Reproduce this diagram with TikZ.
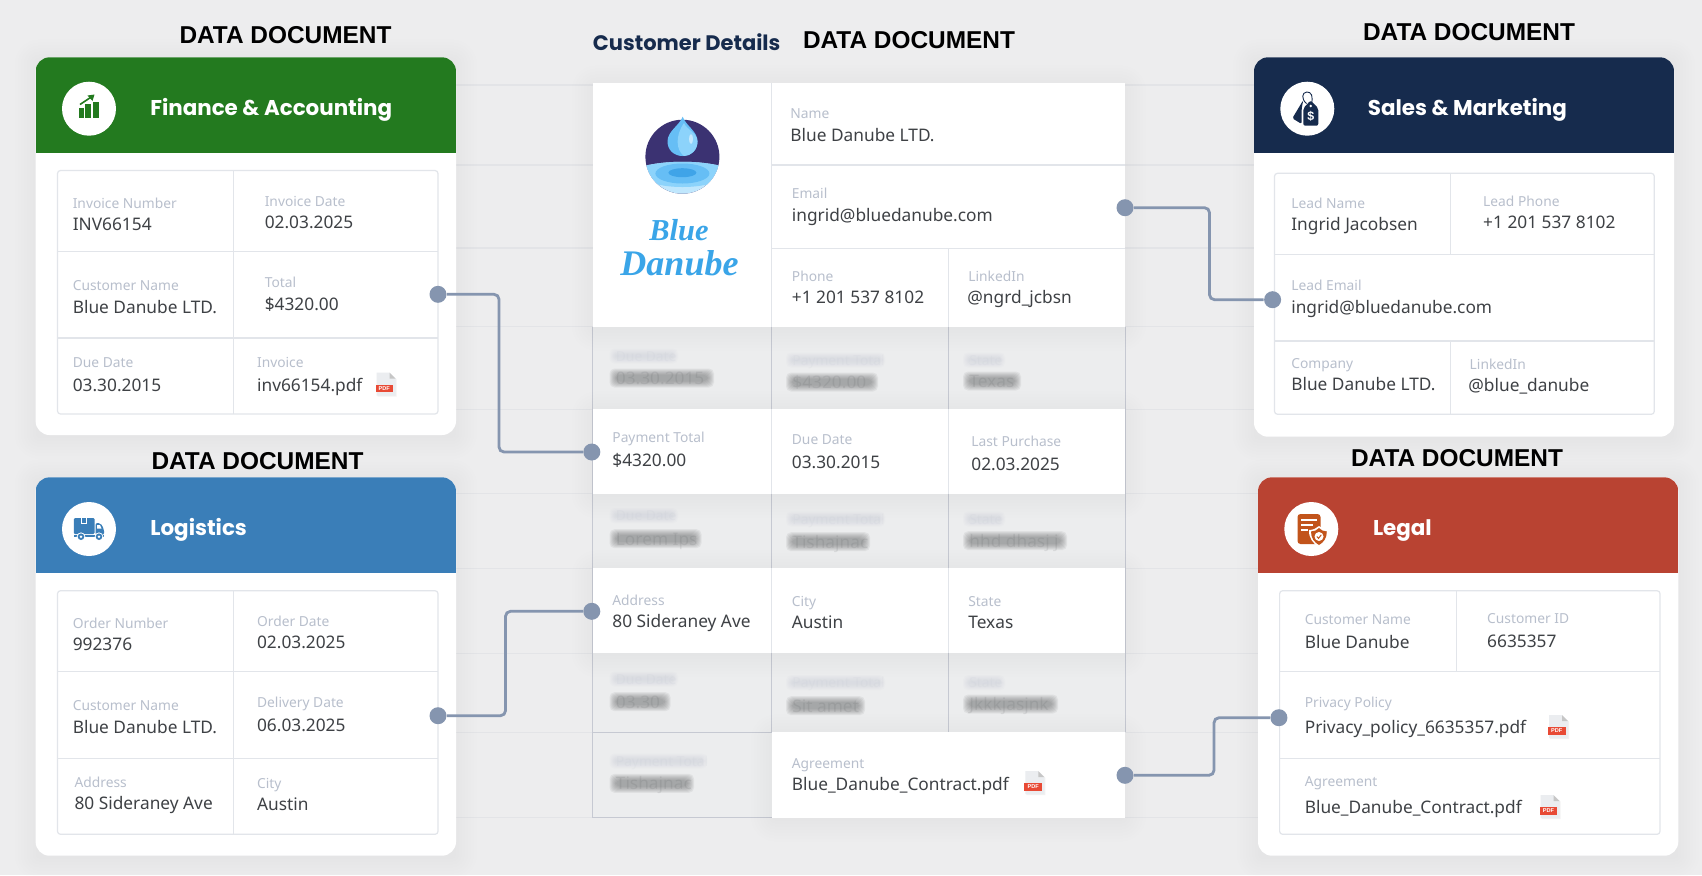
\documentclass[tikz,border=0pt]{standalone}
\usepackage{fontspec}
\setmainfont{Noto Sans}
\newfontfamily\headfont{Liberation Sans}
\newfontfamily\titlefont{Poppins}
\newfontfamily\logofont{Liberation Serif}
\usetikzlibrary{calc}
\definecolor{bgc}{HTML}{EDEDEE}
\definecolor{blurc}{HTML}{ECEDEE}
\definecolor{gridl}{HTML}{E2E5EA}
\definecolor{gridd}{HTML}{C6C9D2}
\definecolor{bgl}{HTML}{E3E4E7}
\definecolor{lblc}{HTML}{B8BFCC}
\definecolor{valc}{HTML}{3E4145}
\definecolor{connc}{HTML}{8595AF}
\definecolor{greenh}{HTML}{237A1F}
\definecolor{navyh}{HTML}{162B4D}
\definecolor{blueh}{HTML}{3A7EB8}
\definecolor{redh}{HTML}{B94332}
\definecolor{orangei}{HTML}{C2541B}
\definecolor{logod}{HTML}{3B3272}
\definecolor{logol}{HTML}{8CD3FB}
\definecolor{logom}{HTML}{66BEF5}
\definecolor{logoi}{HTML}{3FA4E8}
\definecolor{logot}{HTML}{3AA5E8}
\definecolor{pdfr}{HTML}{E84A35}
\newcounter{nn}
\tikzset{
  lbl/.style={anchor=west,inner sep=0pt,text=lblc,text height=5.2pt,text depth=0pt,font=\fontsize{6.9}{8}\selectfont},
  valt/.style={anchor=west,inner sep=0pt,text=valc,text height=6.5pt,text depth=0pt,font=\fontsize{8.65}{10}\selectfont},
  heading/.style={anchor=center,inner sep=0pt,text=black,font=\headfont\bfseries\fontsize{12.2}{14}\selectfont},
  cardtitle/.style={anchor=west,inner sep=0pt,text=white,text height=7.5pt,text depth=0pt,font=\titlefont\bfseries\fontsize{10.7}{12}\selectfont},
  dotn/.style={circle,fill=connc,inner sep=0pt,minimum size=8.5pt},
  conn/.style={draw=connc,line width=1.4pt,rounded corners=2.5pt},
  bglbl/.style={anchor=west,inner sep=0pt,text=lblc,opacity=.1,text height=5.2pt,text depth=0pt,font=\fontsize{6.9}{8}\selectfont},
  bgval/.style={anchor=west,inner sep=0pt,text=valc,opacity=.1,text height=6.5pt,text depth=0pt,font=\fontsize{8.65}{10}\selectfont},
}
\newcommand\softshadow[4]{\foreach \e in {21,18,15,12,9,6,3,0}{\fill[black,opacity=.0055,rounded corners=\e*0.5pt+2pt] (#1-\e,#2-\e+3) rectangle (#3+\e,#4+\e+3);}}
\newcommand\smudge[5]{\foreach \e in {6,5,4,3,2,1,0}{\fill[#5,opacity=.085,rounded corners=2.5pt] (#1-\e,#3-#4-\e) rectangle (#2+\e,#3+#4+\e);}}
\newcommand\lab[3]{\stepcounter{nn}\node[lbl] (t\arabic{nn}) at (#1,#2) {#3};}
\newcommand\val[3]{\stepcounter{nn}\node[valt] (t\arabic{nn}) at (#1,#2) {#3};}
\newcommand\blurl[4]{\smudge{#1}{#2}{#3}{1.5}{lblc!75}\stepcounter{nn}\node[bglbl] (t\arabic{nn}) at (#1,#3) {#4};}
\newcommand\blurv[4]{\smudge{#1}{#2}{#3}{3.5}{valc!85}\stepcounter{nn}\node[bgval] (t\arabic{nn}) at (#1,#3) {#4};}
\newcommand\headn[3]{\stepcounter{nn}\node[heading] (t\arabic{nn}) at (#1,#2) {#3};}
% card: x1,y1,x2,y2,yheader,colour,circle x,circle y
\newcommand\card[8]{%
  \softshadow{#1}{#2}{#3}{#4}
  \fill[white,rounded corners=7pt] (#1,#2) rectangle (#3,#4);
  \begin{scope}
    \clip[rounded corners=7pt] (#1,#2) rectangle (#3,#4);
    \fill[#6] (#1,#2) rectangle (#3,#5);
  \end{scope}
  \fill[white] (#7,#8) circle (27);
}
\newcommand\pdficon[2]{%
  \fill[black,opacity=.05] (#1-8,#2-10.5) -- (#1+5,#2-10.5) -- (#1+11,#2-5) -- (#1+11,#2+12.5) -- (#1-8,#2+12.5) -- cycle;
  \fill[gridl!70!white] (#1-9,#2-11.5) -- (#1+4,#2-11.5) -- (#1+10,#2-5.5) -- (#1+10,#2+11.5) -- (#1-9,#2+11.5) -- cycle;
  \fill[gray!45] (#1+4,#2-11.5) -- (#1+10,#2-5.5) -- (#1+4,#2-5.5) -- cycle;
  \fill[pdfr] (#1-10,#2+0.5) rectangle (#1+7.5,#2+8);
  \stepcounter{nn}\node[inner sep=0pt,text=white,font=\headfont\bfseries\fontsize{2.8}{3}\selectfont] (t\arabic{nn}) at (#1-1.2,#2+4.3) {PDF};
}
\begin{document}
\begin{tikzpicture}[x=0.5pt,y=-0.5pt]
\useasboundingbox (0,0) rectangle (1702,875);
\fill[bgc] (0,0) rectangle (1702,875);
% faint background rows
\foreach \yy in {85,165,248,326.7,409.3,493.3,568.3,653.3,732.3,817.3}{
  \draw[bgl,line width=.6pt] (450,\yy) -- (1262,\yy);
}
% centre table: blurred rows
\fill[blurc] (592.5,326.7) rectangle (1125,817.7);
\blurl{615.5}{672}{356}{Due Date}
\blurv{615.5}{708}{378}{03.30.2015}
\blurl{792}{879}{360}{Payment Total}
\blurv{792}{872}{382}{\$4320.00}
\blurl{969}{999}{360}{State}
\blurv{969}{1015}{381}{Texas}
\blurl{615.5}{672}{515.7}{Due Date}
\blurv{615.5}{695.5}{538.7}{Lorem Ips}
\blurl{792}{879}{519}{Payment Total}
\blurv{792}{864}{541.7}{Tishajnac}
\blurl{969}{999}{519}{State}
\blurv{969}{1061}{540.7}{hhd dhasj j}
\blurl{615.5}{672}{679}{Due Date}
\blurv{615.5}{664.5}{701.7}{03.30}
\blurl{792}{879}{682.7}{Payment Total}
\blurv{792}{859}{705.7}{Sit amet}
\blurl{969}{999}{682.7}{State}
\blurv{969}{1052}{704}{Jkkkjasjnk}
\blurl{615.5}{701}{761}{Payment Total}
\blurv{615.5}{688}{783.3}{Tishajnac}
\foreach \xx in {592.5,771.8,948.5,1125}{\draw[gridd,line width=.5pt] (\xx,326.7) -- (\xx,732.3);}
\draw[gridd,line width=.5pt] (592.5,732.3) -- (592.5,817.7);
\draw[gridd,line width=.5pt] (592.5,732.3) -- (771.8,732.3);
\draw[gridd,line width=.5pt] (592.5,817.7) -- (771.8,817.7);
% white regions of centre table
\softshadow{592.5}{83.3}{1125}{326.7}
\softshadow{592.5}{409.3}{1125}{494.3}
\softshadow{592.5}{568.3}{1125}{653.3}
\softshadow{771.8}{732.3}{1125}{817.7}
\fill[white] (592.5,83.3) rectangle (1125,326.7);
\fill[white] (592.5,409.3) rectangle (1125,494.3);
\fill[white] (592.5,568.3) rectangle (1125,653.3);
\fill[white] (771.8,732.3) rectangle (1125,817.7);
\begin{scope}[gridl,line width=.6pt]
  \draw (771.8,83.3) -- (771.8,326.7);
  \draw (771.8,165) -- (1125,165);
  \draw (771.8,248.3) -- (1125,248.3);
  \draw (948.5,248.3) -- (948.5,326.7);
  \draw (771.8,409.3) -- (771.8,494.3);
  \draw (948.5,409.3) -- (948.5,494.3);
  \draw (771.8,568.3) -- (771.8,653.3);
  \draw (948.5,568.3) -- (948.5,653.3);
\end{scope}
% logo
\begin{scope}
  \clip (682.4,156.7) circle (37);
  \fill[logod] (640,110) rectangle (725,200);
  \fill[logol!55!white] (640,167) .. controls (665,160) and (700,160) .. (725,167) -- (725,200) -- (640,200) -- cycle;
  \fill[logol] (640,167) .. controls (665,160) and (700,160) .. (725,167) -- (725,178) .. controls (705,190) and (660,190) .. (640,178) -- cycle;
  \fill[logom] (682.4,173.5) ellipse (27 and 10);
  \fill[logoi] (682.4,172.7) ellipse (14 and 4.5);
\end{scope}
\fill[logom] (682.7,116.7) .. controls (686,126) and (697.5,131) .. (697.5,141.5) .. controls (697.5,150) and (691,156) .. (682.7,156) .. controls (674,156) and (667.5,150) .. (667.5,141.5) .. controls (667.5,131) and (679,126) .. (682.7,116.7) -- cycle;
\fill[logol] (684,123) .. controls (687,130) and (697.5,133) .. (697.5,141.5) .. controls (697.5,150) and (691,156) .. (684,156) .. controls (676,150) and (675,136) .. (684,123) -- cycle;
\fill[logol!50!white] (691,139) ellipse (2 and 5);
\node[inner sep=0pt,text=logot,font=\logofont\bfseries\itshape\fontsize{15.2}{16}\selectfont] (logoa) at (679,230) {Blue};
\node[inner sep=0pt,text=logot,font=\logofont\bfseries\itshape\fontsize{18}{20}\selectfont] (logob) at (679.5,263) {Danube};
% centre headings
\node[anchor=west,inner sep=0pt,text=navyh,font=\titlefont\bfseries\fontsize{10.5}{12}\selectfont] (custd) at (592.5,42.3) {Customer Details};
\headn{909}{40}{DATA DOCUMENT}
% centre text
\lab{790}{113.3}{Name}
\val{790}{134.7}{Blue Danube LTD.}
\lab{791.5}{193.7}{Email}
\val{791.5}{215}{ingrid@bluedanube.com}
\lab{791.5}{276.3}{Phone}
\val{791.5}{297.3}{+1 201 537 8102}
\lab{968}{276.3}{LinkedIn}
\val{967}{297.3}{@ngrd\_jcbsn}
\lab{612}{437.7}{Payment Total}
\val{612}{460}{\$4320.00}
\lab{791.5}{439.3}{Due Date}
\val{791.5}{462}{03.30.2015}
\lab{971}{441.3}{Last Purchase}
\val{971}{464}{02.03.2025}
\lab{612}{600}{Address}
\val{612}{621}{80 Sideraney Ave}
\lab{791.5}{601}{City}
\val{791.5}{622}{Austin}
\lab{968}{601}{State}
\val{968}{622}{Texas}
\lab{791.5}{763}{Agreement}
\val{791.5}{784}{Blue\_Danube\_Contract.pdf}
\pdficon{1034.4}{782.7}
% ---- Finance card
\card{35.6}{57.3}{456}{435}{152.5}{greenh}{89}{108.7}
\headn{285.5}{35.3}{DATA DOCUMENT}
\stepcounter{nn}\node[cardtitle] (t\arabic{nn}) at (150,108) {Finance \& Accounting};
\begin{scope}[greenh]
  \fill (78.5,108) rectangle (84.4,118.3);
  \fill (85.4,104) rectangle (91.3,118.3);
  \fill (92.8,101.7) rectangle (98.8,118.3);
  \draw[line width=.8pt] (80,104.5) -- (92,96.5);
  \fill (94.5,94.5) -- (87.5,95.5) -- (92.5,101) -- cycle;
\end{scope}
\draw[gridl,line width=.6pt,rounded corners=1.5pt] (57.5,170.5) rectangle (438,414);
\draw[gridl,line width=.6pt] (233.8,170.5) -- (233.8,414) (57.5,251.5) -- (438,251.5) (57.5,338) -- (438,338);
\lab{72.4}{203}{Invoice Number}
\val{72.4}{224}{INV66154}
\lab{264.4}{201}{Invoice Date}
\val{264.4}{222}{02.03.2025}
\lab{72.4}{285.3}{Customer Name}
\val{72.4}{306.7}{Blue Danube LTD.}
\lab{264.4}{282}{Total}
\val{264.4}{304.3}{\$4320.00}
\lab{72.4}{362}{Due Date}
\val{72.4}{385}{03.30.2015}
\lab{256.7}{362}{Invoice}
\val{256.7}{385}{inv66154.pdf}
\pdficon{385.5}{384}
% ---- Sales card
\card{1254}{57.3}{1674}{436.7}{152.5}{navyh}{1307.3}{108.7}
\headn{1469}{32.3}{DATA DOCUMENT}
\stepcounter{nn}\node[cardtitle] (t\arabic{nn}) at (1367.5,108) {Sales \& Marketing};
\begin{scope}[navyh]
  \fill[rounded corners=.8pt] (1303.3,100) -- (1292.3,118.3) -- (1301.7,124) -- (1301.7,108) -- cycle;
  \fill[rounded corners=1pt] (1310.5,100.5) -- (1303.3,108.3) -- (1303.3,125.7) -- (1318.3,125.7) -- (1318.3,108.3) -- cycle;
  \draw[line width=.45pt] (1311,105) .. controls (1314,96) and (1311,91.5) .. (1306.5,92) .. controls (1302,92.5) and (1301,99) .. (1306.5,103.5);
  \fill[white] (1310.7,106) circle (1.3);
\end{scope}
\stepcounter{nn}\node[inner sep=0pt,text=white,font=\headfont\bfseries\fontsize{6.2}{7}\selectfont] (t\arabic{nn}) at (1310.7,116) {\$};
\draw[gridl,line width=.6pt,rounded corners=1.5pt] (1274.5,173.3) rectangle (1654.3,414.3);
\draw[gridl,line width=.6pt] (1450.3,173.3) -- (1450.3,254.3) (1450.3,341) -- (1450.3,414.3) (1274.5,254.3) -- (1654.3,254.3) (1274.5,341) -- (1654.3,341);
\lab{1290.9}{203}{Lead Name}
\val{1290.9}{224.3}{Ingrid Jacobsen}
\lab{1482.8}{201}{Lead Phone}
\val{1482.8}{222}{+1 201 537 8102}
\lab{1290.9}{285.3}{Lead Email}
\val{1290.9}{306.7}{ingrid@bluedanube.com}
\lab{1290.9}{363}{Company}
\val{1290.9}{384}{Blue Danube LTD.}
\lab{1469.3}{364}{LinkedIn}
\val{1468}{385}{@blue\_danube}
% ---- Logistics card
\card{35.6}{477.3}{456}{855.7}{572.7}{blueh}{89}{529}
\headn{257.5}{461}{DATA DOCUMENT}
\stepcounter{nn}\node[cardtitle] (t\arabic{nn}) at (150,528) {Logistics};
\begin{scope}[blueh]
  \fill[rounded corners=.6pt] (73.8,518) rectangle (94.5,534);
  \fill[white] (81,518) rectangle (87,524);
  \fill (82,518) rectangle (86,522.5);
  \fill[rounded corners=1pt] (95.5,523) -- (100.5,523) -- (104,529) -- (104,535) -- (95.5,535) -- cycle;
  \fill[white] (97,525) -- (100,525) -- (101.5,528.5) -- (97,528.5) -- cycle;
  \fill (73.8,535) rectangle (104,536.5);
  \foreach \wx in {81,99}{\fill[white] (\wx,536.7) circle (4.3); \fill (\wx,536.7) circle (3.3); \fill[white] (\wx,536.7) circle (1.3);}
\end{scope}
\draw[gridl,line width=.6pt,rounded corners=1.5pt] (57.5,590.7) rectangle (438,834.3);
\draw[gridl,line width=.6pt] (233.8,590.7) -- (233.8,834.3) (57.5,671.3) -- (438,671.3) (57.5,758.3) -- (438,758.3);
\lab{72.4}{623.3}{Order Number}
\val{72.4}{644.3}{992376}
\lab{256.7}{621.3}{Order Date}
\val{256.7}{642.3}{02.03.2025}
\lab{72.4}{705.7}{Customer Name}
\val{72.4}{726.7}{Blue Danube LTD.}
\lab{256.7}{702}{Delivery Date}
\val{256.7}{724.7}{06.03.2025}
\lab{74.2}{782.3}{Address}
\val{74.2}{803}{80 Sideraney Ave}
\lab{256.7}{783.3}{City}
\val{256.7}{804.3}{Austin}
% ---- Legal card
\card{1258}{477.3}{1678.3}{855.7}{572.7}{redh}{1311.3}{529}
\headn{1457}{458}{DATA DOCUMENT}
\stepcounter{nn}\node[cardtitle] (t\arabic{nn}) at (1372.6,528) {Legal};
\begin{scope}[orangei]
  \fill[rounded corners=1.5pt] (1297.5,514) rectangle (1320.5,544);
  \fill[white] (1300.5,518.5) rectangle (1316.5,520.5);
  \fill[white] (1300.5,523.5) rectangle (1312.5,525.5);
  \fill[white] (1300.5,528.5) rectangle (1307.5,530.5);
  \fill[white] (1309,530) .. controls (1313.5,530) and (1316.5,528) .. (1319,526) .. controls (1321.5,528) and (1324.5,530) .. (1328.5,530) .. controls (1329,538) and (1324.5,544) .. (1319,547) .. controls (1313.5,544) and (1308.5,538) .. (1309,530) -- cycle;
  \fill (1311,531.5) .. controls (1314.5,531.5) and (1317,530) .. (1319,528) .. controls (1321,530) and (1323.5,531.5) .. (1326.8,531.5) .. controls (1327,538) and (1323.5,542.5) .. (1319,545) .. controls (1314.5,542.5) and (1310.8,538) .. (1311,531.5) -- cycle;
  \fill[white] (1319,536.5) circle (4.5);
  \draw[line width=.5pt] (1316.8,536.5) -- (1318.5,538.3) -- (1321.3,534.8);
\end{scope}
\draw[gridl,line width=.6pt,rounded corners=1.5pt] (1279.6,590.7) rectangle (1660,834.3);
\draw[gridl,line width=.6pt] (1456.5,590.7) -- (1456.5,671.3) (1279.6,671.3) -- (1660,671.3) (1279.6,758.3) -- (1660,758.3);
\lab{1304.4}{619.3}{Customer Name}
\val{1304.4}{642.3}{Blue Danube}
\lab{1486.8}{618.3}{Customer ID}
\val{1486.8}{641.3}{6635357}
\lab{1304.4}{702}{Privacy Policy}
\val{1304.4}{727}{Privacy\_policy\_6635357.pdf}
\pdficon{1558}{726.7}
\lab{1304.4}{781.7}{Agreement}
\val{1304.4}{806.7}{Blue\_Danube\_Contract.pdf}
\pdficon{1549.6}{806.7}
% ---- connectors
\node[dotn] (fa) at (438,294.3) {};
\node[dotn] (pay) at (591.8,452) {};
\node[dotn] (lo) at (438,715.7) {};
\node[dotn] (addr) at (591.8,611.3) {};
\node[dotn] (em) at (1125,207.7) {};
\node[dotn] (lead) at (1272.6,299.7) {};
\node[dotn] (agr) at (1125,775.3) {};
\node[dotn] (priv) at (1278.9,717.7) {};
\coordinate (e1) at (499,0);
\coordinate (e2) at (505.5,0);
\coordinate (e3) at (1209.5,0);
\coordinate (e4) at (1214,0);
\draw[conn] (fa) -- (fa -| e1) -- (e1 |- pay) -- (pay);
\draw[conn] (lo) -- (lo -| e2) -- (e2 |- addr) -- (addr);
\draw[conn] (em) -- (em -| e3) -- (e3 |- lead) -- (lead);
\draw[conn] (agr) -- (agr -| e4) -- (e4 |- priv) -- (priv);
\end{tikzpicture}
\end{document}
